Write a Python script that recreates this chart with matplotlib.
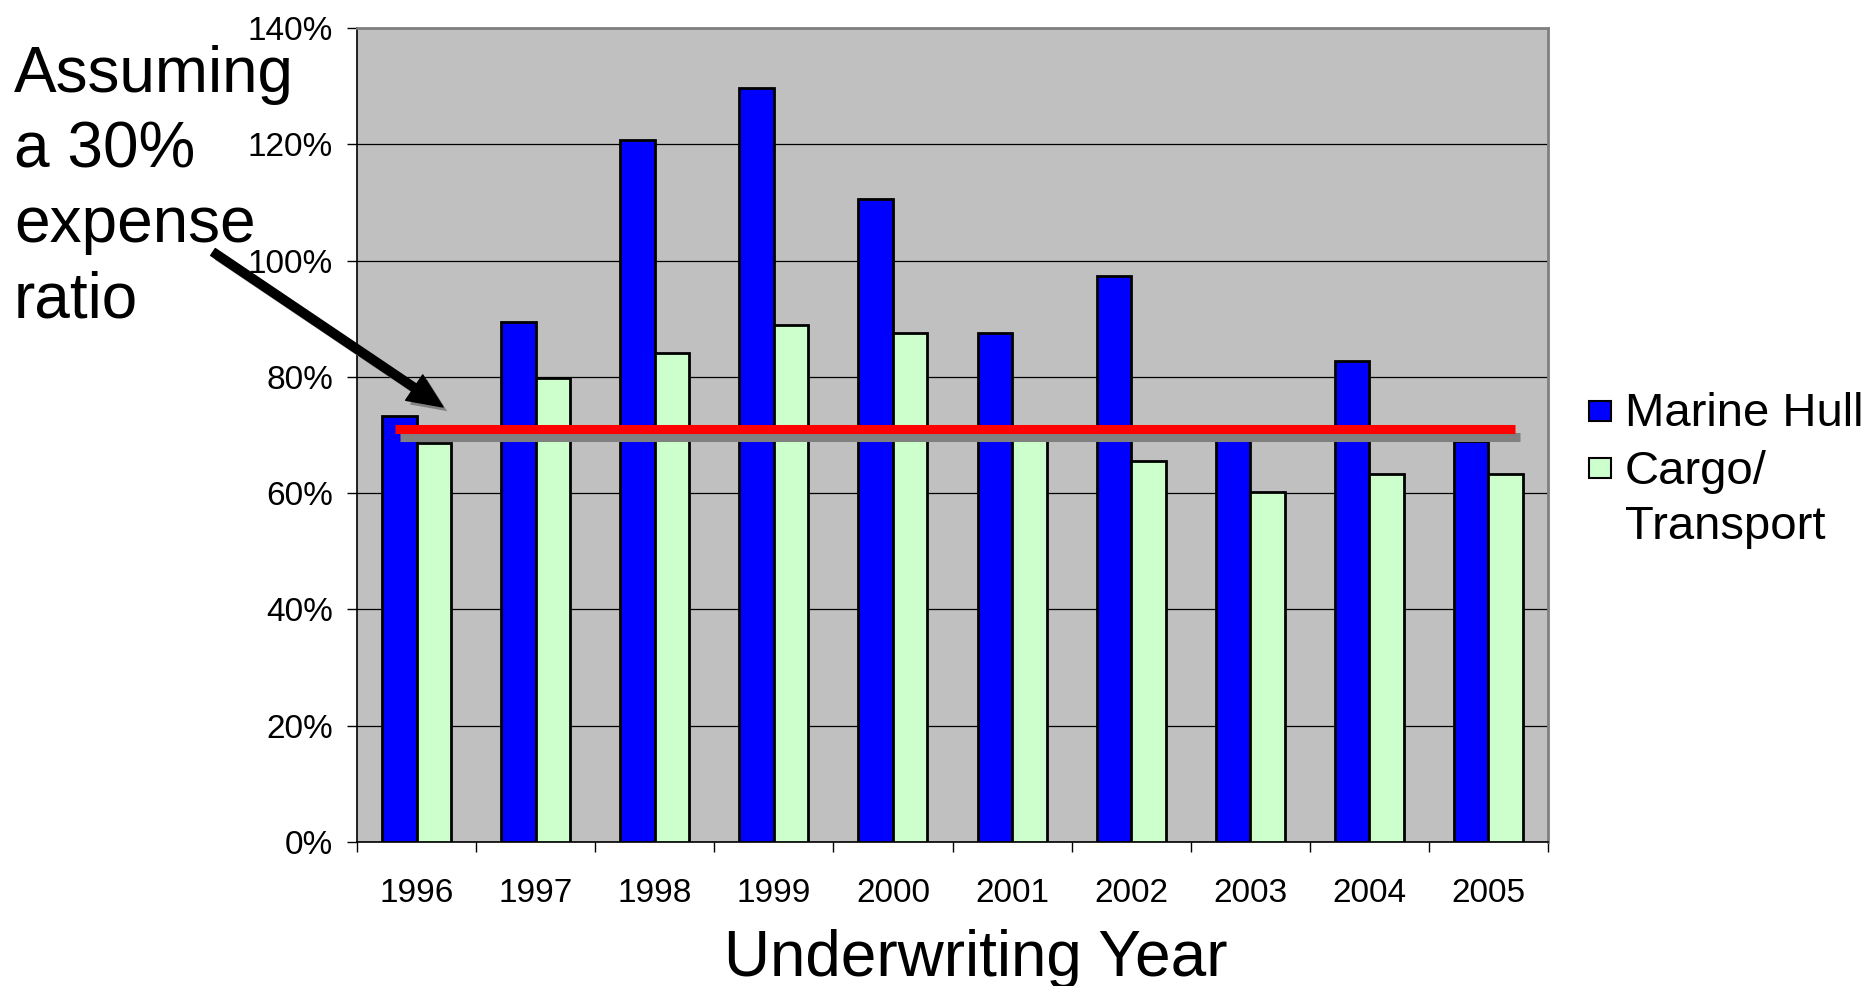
import numpy as np
import matplotlib
matplotlib.use("Agg")
import matplotlib.pyplot as plt
import matplotlib.patheffects as pe
from matplotlib.patches import Rectangle

plt.rcParams['font.family'] = ['Liberation Sans', 'DejaVu Sans']

# loss ratios by underwriting year (%)
years = ['1996', '1997', '1998', '1999', '2000', '2001', '2002', '2003', '2004', '2005']
marine_hull = [73.2, 89.4, 120.7, 129.7, 110.6, 87.6, 97.4, 70.5, 82.8, 69.0]
cargo_transport = [68.7, 79.8, 84.1, 89.0, 87.6, 70.5, 65.6, 60.2, 63.3, 63.3]
breakeven = 71.0
y_ticks = [0, 20, 40, 60, 80, 100, 120, 140]

W, H = 1871, 986
fig = plt.figure(figsize=(W / 100, H / 100), dpi=100, facecolor='white')
ax = fig.add_axes([357 / W, 1 - 842 / H, (1548 - 357) / W, (842 - 28) / H])
ax.set_facecolor('#C0C0C0')

x = np.arange(len(years))
bw = 0.29
ax.bar(x - bw / 2, marine_hull, bw, color='#0000FF', edgecolor='black', linewidth=2, zorder=3)
ax.bar(x + bw / 2, cargo_transport, bw, color='#CCFFCC', edgecolor='black', linewidth=2, zorder=3)

# break-even line with drop shadow
ax.plot([-0.18, 9.22], [breakeven, breakeven], color='#FF0000', lw=6.5, solid_capstyle='butt', zorder=5,
        path_effects=[pe.SimpleLineShadow(offset=(3.6, -5.8), shadow_color='#808080', alpha=1),
                      pe.Normal()])

ax.set_xlim(-0.5, 9.5)
ax.set_ylim(0, 140)
ax.set_yticks(y_ticks)
ax.set_yticklabels([f'{v}%' for v in y_ticks], fontsize=24)
ax.yaxis.grid(True, color='black', lw=0.9, zorder=1)
ax.set_axisbelow(True)
ax.tick_params(axis='y', length=7.2, width=1, direction='out', pad=10)

ax.set_xticks(x)
ax.set_xticklabels(years, fontsize=24)
ax.set_xticks(np.arange(-0.5, 10, 1), minor=True)
ax.tick_params(axis='x', which='major', length=0, pad=26)
ax.tick_params(axis='x', which='minor', length=7.2, width=1, direction='out')

for side in ['top', 'right']:
    ax.spines[side].set_color('#808080')
    ax.spines[side].set_linewidth(2)
for side in ['left', 'bottom']:
    ax.spines[side].set_color('black')
    ax.spines[side].set_linewidth(1.2)

fig.text(976 / W, 1 - 976 / H, 'Underwriting Year', fontsize=46, ha='center', va='baseline')

# side note with arrow
note = ['Assuming', 'a 30%', 'expense', 'ratio']
for line, base in zip(note, [92, 167, 242, 318]):
    fig.text(14 / W, 1 - base / H, line, fontsize=46, ha='left', va='baseline')

ax.annotate('', xy=(443, H - 407), xycoords='figure pixels',
            xytext=(213, H - 252), textcoords='figure pixels',
            arrowprops=dict(arrowstyle='simple,head_width=1.1,head_length=1.25,tail_width=0.3',
                            fc='black', ec='black', shrinkA=0, shrinkB=0, mutation_scale=20,
                            path_effects=[pe.withSimplePatchShadow(offset=(3, -3),
                                                                   shadow_rgbFace='#808080', alpha=1)]),
            zorder=10, annotation_clip=False)

# legend
legend_items = [('Marine Hull', '#0000FF', 401, [426]),
                ('Cargo/\nTransport', '#CCFFCC', 458, [484, 539])]
for label, color, top, bases in legend_items:
    fig.patches.append(Rectangle((1589 / W, 1 - (top + 20) / H), 22 / W, 20 / H,
                                 transform=fig.transFigure, facecolor=color,
                                 edgecolor='black', linewidth=1.5))
    for line, base in zip(label.split('\n'), bases):
        fig.text(1625 / W, 1 - base / H, line, fontsize=34, ha='left', va='baseline')

fig.savefig('out.png', dpi=100)
